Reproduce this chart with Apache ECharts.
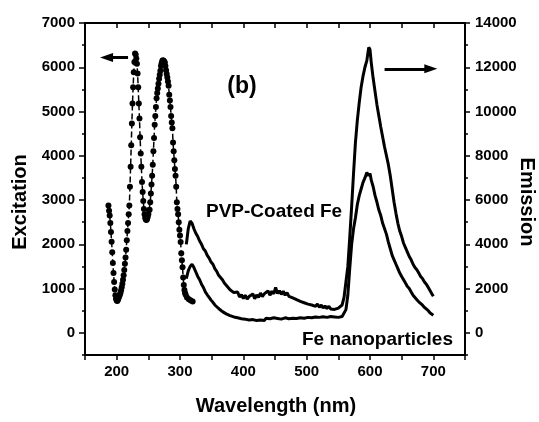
<!DOCTYPE html>
<html>
<head>
<meta charset="utf-8">
<script src="https://cdn.jsdelivr.net/npm/echarts@6/dist/echarts.min.js"></script>
<style>
  html, body { margin: 0; padding: 0; background: #fff; }
  #chart { width: 539px; height: 422px; }
</style>
</head>
<body>
<div id="chart"></div>
<script>
// Excitation spectrum (left axis), wavelength in nm
const excitationWl = [187,188,189,190,191,192,193,194,195,196,197,198,199,200,201,202,203,204,205,206,207,208,209,210,
  211,212,213,214,215,216,217,218,219,220,221,222,223,224,225,226,227,228,229,230,231,232,233,234,235,236,237,238,239,240,
  241,242,243,244,245,246,247,248,249,250,251,252,253,254,255,256,257,258,259,260,261,262,263,264,265,266,267,268,269,270,
  271,272,273,274,275,276,277,278,279,280,281,282,283,284,285,286,287,288,289,290,291,292,293,294,295,296,297,298,299,300,
  301,302,303,304,305,306,307,308,309,311,314,317,320];
const excitationCounts = [2880,2760,2650,2480,2280,2060,1820,1580,1350,1150,980,850,770,730,720,750,790,820,860,900,960,1030,1110,1200,
  1300,1420,1560,1700,1880,2090,2300,2480,2680,2880,3300,3750,4240,4730,5180,5550,5890,6120,6310,6290,6200,6080,5860,5550,5180,4840,4420,4050,3750,3410,
  3180,2980,2800,2680,2600,2560,2550,2570,2620,2680,2770,2780,2950,3150,3350,3550,3800,4100,4400,4700,4900,5100,5300,5420,5520,5630,5740,5830,5920,6030,
  6090,6140,6160,6150,6130,6110,6030,5930,5850,5770,5680,5580,5380,5250,5100,4900,4750,4620,4300,4100,3900,3700,3550,3300,2950,2800,2680,2500,2330,2200,
  2050,1800,1640,1480,1250,1080,970,900,860,800,760,730,710];

// Emission spectra (right axis)
const emissionWl = [310,313,316,319,322,325,328,331,334,337,340,343,346,349,352,355,358,361,364,367,370,373,376,379,382,385,388,391,394,397,
  400,403,406,409,412,415,418,421,424,427,430,433,436,439,442,445,448,451,454,457,460,463,466,469,472,475,478,481,484,487,
  490,493,496,499,502,505,508,511,514,517,520,523,526,529,532,535,538,541,544,547,550,553,556,559,562,565,568,571,574,577,
  580,583,586,589,592,595,598,600,602,605,608,611,614,617,620,623,626,629,632,635,638,641,644,647,650,653,656,659,662,665,
  668,671,674,677,680,683,686,689,692,695,698,700];
const pvpCoatedFe = [4000,4700,5050,4950,4700,4500,4350,4150,4000,3800,3700,3500,3380,3200,3100,2900,2780,2600,2500,2400,2250,2150,2080,1950,1900,1820,1760,1850,1620,1720,
  1550,1700,1520,1640,1560,1760,1540,1720,1600,1800,1640,1760,1680,1900,1700,1880,1760,2050,1780,1900,1740,1880,1700,1820,1650,1740,1580,1660,1500,1560,
  1420,1500,1360,1440,1300,1380,1260,1340,1200,1300,1160,1260,1120,1220,1100,1200,1080,1160,1060,1140,1120,1200,1260,1600,2300,3000,4300,5700,7200,8600,
  9600,10400,11100,11600,12000,12300,12900,12800,12200,11500,10900,10300,9800,9300,8850,8400,8000,7600,7100,6500,5900,5400,4950,4600,4350,4050,3850,3650,3450,3300,
  3100,2950,2850,2700,2550,2450,2300,2200,2050,1900,1750,1650];
const feNanoparticles = [2450,2800,3000,3100,2950,2750,2550,2400,2200,2050,1850,1720,1600,1480,1380,1260,1180,1100,1030,960,920,860,840,780,760,720,740,680,720,640,
  700,620,680,580,660,600,640,560,650,580,630,560,660,590,640,580,680,600,650,590,620,570,680,600,640,580,660,590,650,580,
  680,600,660,610,700,630,680,620,720,640,700,650,730,660,700,640,740,680,720,660,700,760,740,820,1050,1700,2900,4000,4700,5200,
  5800,6200,6500,6800,7000,7250,7100,7200,6900,6600,6200,5900,5550,5300,4950,4700,4450,4100,3800,3500,3300,3100,2900,2700,2550,2400,2250,2100,2000,1850,
  1700,1600,1500,1400,1350,1250,1150,1100,1000,900,850,800];

// Axis tick labels
const xLabels = [200, 300, 400, 500, 600, 700];
const excitationLabels = [0, 1000, 2000, 3000, 4000, 5000, 6000, 7000];
const emissionLabels = [0, 2000, 4000, 6000, 8000, 10000, 12000, 14000];

const FONT = '"Liberation Sans", Arial, Helvetica, sans-serif';
const zip = (xs, ys) => xs.map((x, i) => [x, ys[i]]);

const chart = echarts.init(document.getElementById('chart'), null, { renderer: 'canvas' });

const lineBlack = { color: '#000', width: 2 };
const tickLbl = { color: '#000', fontFamily: FONT, fontWeight: 'bold', fontSize: 15 };
const plain = v => String(v);

chart.setOption({
  animation: false,
  backgroundColor: '#fff',
  grid: { left: 85, top: 23, width: 380, height: 332, containLabel: false },
  xAxis: [
    {
      type: 'value', position: 'bottom', min: 150, max: 750, interval: 50,
      axisLine: { onZero: false, lineStyle: lineBlack },
      axisTick: { length: 5, lineStyle: { color: '#000', width: 1.5 } },
      axisLabel: Object.assign({ margin: 9, formatter: v => xLabels.includes(v) ? String(v) : '' }, tickLbl),
      splitLine: { show: false }
    },
    {
      type: 'value', position: 'top', min: 150, max: 750, interval: 50,
      axisLine: { onZero: false, lineStyle: lineBlack },
      axisTick: { inside: true, length: 5, lineStyle: { color: '#000', width: 1.5 } },
      axisLabel: { show: false },
      splitLine: { show: false }
    }
  ],
  yAxis: [
    {
      type: 'value', position: 'left', min: -500, max: 7000, interval: 500,
      axisLine: { show: true, onZero: false, lineStyle: lineBlack },
      axisTick: { show: true, length: 3, lineStyle: { color: '#000', width: 1.5 } },
      axisLabel: { show: false },
      splitLine: { show: false }
    },
    {
      type: 'value', position: 'right', min: -1000, max: 14000, interval: 1000,
      axisLine: { show: true, onZero: false, lineStyle: lineBlack },
      axisTick: { show: true, length: 3, lineStyle: { color: '#000', width: 1.5 } },
      axisLabel: { show: false },
      splitLine: { show: false }
    },
    {
      type: 'value', position: 'left', min: -500, max: 7000,
      axisLine: { show: false, onZero: false },
      axisTick: { show: true, length: 6, customValues: excitationLabels, lineStyle: { color: '#000', width: 1.5 } },
      axisLabel: Object.assign({ margin: 10, customValues: excitationLabels, formatter: plain }, tickLbl),
      splitLine: { show: false }
    },
    {
      type: 'value', position: 'right', min: -1000, max: 14000,
      axisLine: { show: false, onZero: false },
      axisTick: { show: true, length: 5, customValues: emissionLabels, lineStyle: { color: '#000', width: 1.5 } },
      axisLabel: Object.assign({ margin: 10, customValues: emissionLabels, formatter: plain }, tickLbl),
      splitLine: { show: false }
    }
  ],
  series: [
    {
      name: 'PVP-Coated Fe', type: 'line', xAxisIndex: 0, yAxisIndex: 1,
      data: zip(emissionWl, pvpCoatedFe), showSymbol: false,
      lineStyle: { color: '#000', width: 3 },
      markLine: {
        silent: true, symbol: ['none', 'triangle'], symbolSize: [9, 13],
        label: { show: false },
        lineStyle: { color: '#000', width: 3, type: 'solid' },
        data: [[{ coord: [623, 11930] }, { coord: [696, 11930] }]]
      }
    },
    {
      name: 'Fe nanoparticles', type: 'line', xAxisIndex: 0, yAxisIndex: 1,
      data: zip(emissionWl, feNanoparticles), showSymbol: false,
      lineStyle: { color: '#000', width: 3 }
    },
    {
      name: 'Excitation', type: 'line', xAxisIndex: 0, yAxisIndex: 0,
      data: zip(excitationWl, excitationCounts),
      symbol: 'circle', symbolSize: 6, showSymbol: true,
      itemStyle: { color: '#000' },
      lineStyle: { color: '#000', width: 1.5, type: 'dashed' },
      markLine: {
        silent: true, symbol: ['none', 'triangle'], symbolSize: [9, 13],
        label: { show: false },
        lineStyle: { color: '#000', width: 3, type: 'solid' },
        data: [[{ coord: [218, 6220] }, { coord: [184, 6220] }]]
      }
    }
  ],
  graphic: [
    { type: 'text', x: 242, y: 87, style: { text: '(b)', font: 'bold 23px ' + FONT, fill: '#000', align: 'center', verticalAlign: 'middle' } },
    { type: 'text', x: 206, y: 212, style: { text: 'PVP-Coated Fe', font: 'bold 19px ' + FONT, fill: '#000', align: 'left', verticalAlign: 'middle' } },
    { type: 'text', x: 302, y: 340, style: { text: 'Fe nanoparticles', font: 'bold 19px ' + FONT, fill: '#000', align: 'left', verticalAlign: 'middle' } },
    { type: 'text', x: 20, y: 202, rotation: Math.PI / 2, style: { text: 'Excitation', font: 'bold 20px ' + FONT, fill: '#000', align: 'center', verticalAlign: 'middle' } },
    { type: 'text', x: 527, y: 202, rotation: -Math.PI / 2, style: { text: 'Emission', font: 'bold 20px ' + FONT, fill: '#000', align: 'center', verticalAlign: 'middle' } },
    { type: 'text', x: 276, y: 406, style: { text: 'Wavelength (nm)', font: 'bold 20px ' + FONT, fill: '#000', align: 'center', verticalAlign: 'middle' } }
  ]
});
</script>
</body>
</html>
